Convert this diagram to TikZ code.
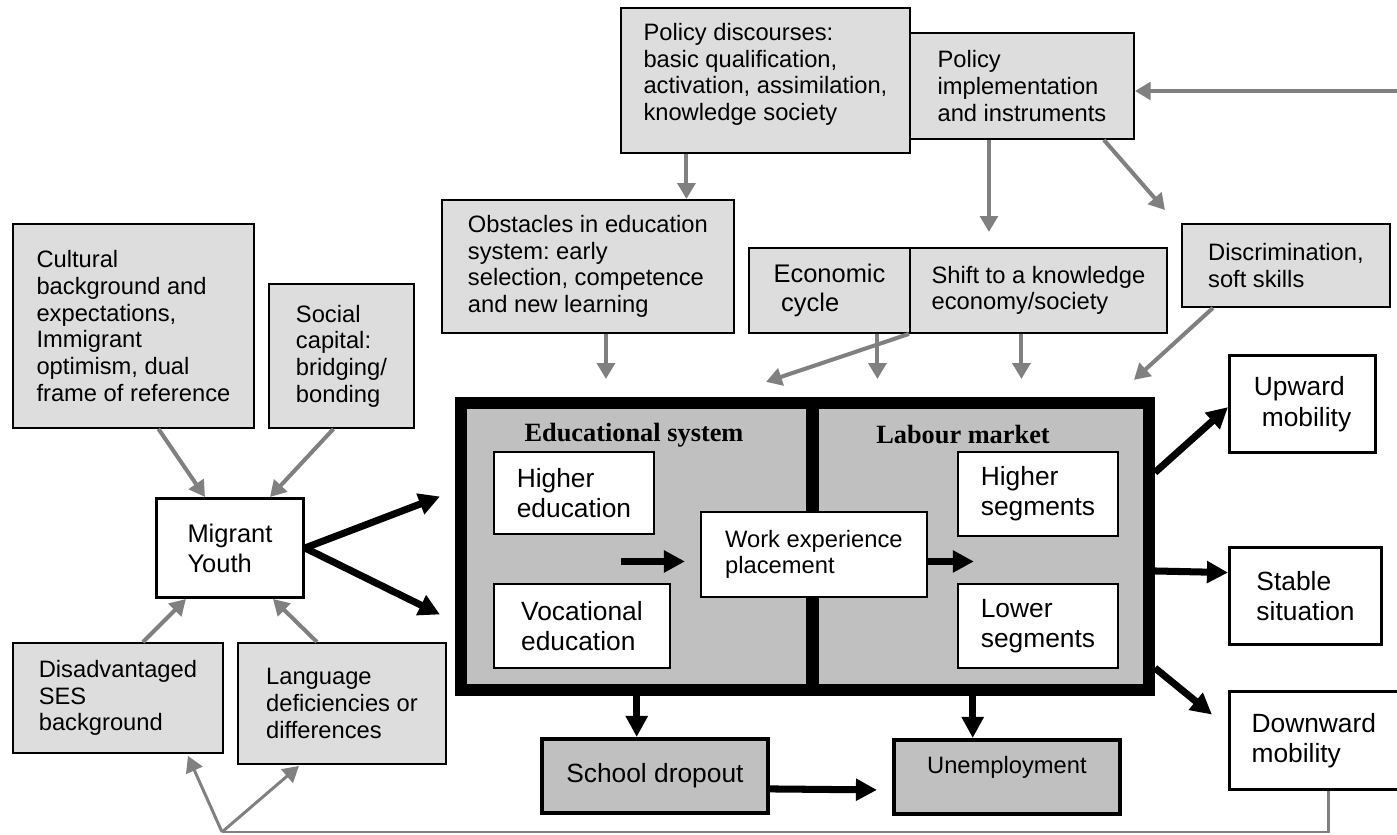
\documentclass[tikz,border=0pt]{standalone}
\usepackage{fontspec}
\setmainfont{Liberation Sans}
\newfontfamily\headfont{Liberation Serif}
\usetikzlibrary{arrows.meta,positioning}
\definecolor{Pale}{HTML}{DDDDDD}
\definecolor{Frame}{HTML}{C0C0C0}
\definecolor{Link}{HTML}{808080}
\frenchspacing
\newcommand{\factfont}{\fontsize{13.5}{15.2}\selectfont}
\newcommand{\cellfont}{\fontsize{15}{17.3}\selectfont}

\begin{document}
\begin{tikzpicture}[x=0.02cm,y=-0.02cm,
    fact/.style={draw,line width=1.1pt,fill=Pale,anchor=north west,align=left,inner sep=0pt,font=\factfont},
    cell/.style={draw,line width=1.1pt,fill=white,anchor=north west,align=left,inner sep=0pt,font=\cellfont},
    outcome/.style={cell,line width=1.8pt},
    exit/.style={draw,line width=2.2pt,fill=Frame,anchor=north west,align=left,inner sep=0pt},
    half/.style={draw,line width=0.24cm,fill=Frame,anchor=north west,inner sep=0pt},
    ttl/.style={font=\headfont\bfseries\fontsize{15}{17}\selectfont},
    garr/.style={-{Triangle[length=9pt,width=10pt]},line width=2.3pt,Link},
    thinarr/.style={garr,line width=1.7pt},
    barr/.style={-{Triangle[length=12pt,width=12pt]},line width=4pt},
    fline/.style={line width=1.5pt,Link}
  ]
  \useasboundingbox (0,0) rectangle (1397,835);

  % policy level
  \node[fact,minimum width=5.78cm,minimum height=2.9cm,text depth=0.34cm] (pdisc) at (620,7)
    {Policy discourses:\\basic qualification,\\activation, assimilation,\\knowledge society};
  \node[fact,minimum width=4.48cm,minimum height=2.12cm] (pimpl) at (909,32)
    {Policy\\implementation\\and instruments};
  \node[fact,minimum width=5.84cm,minimum height=2.66cm] (obst) at (441,199)
    {Obstacles in education\\system: early\\selection, competence\\and new learning};
  \node[fact,minimum width=3.22cm,minimum height=1.7cm,font=\fontsize{14.5}{16}\selectfont] (econ) at (748,247)
    {Economic\\\hspace*{0.3em}cycle};
  \node[fact,minimum width=5.14cm,minimum height=1.7cm] (shift) at (909,247)
    {Shift to a knowledge\\economy/society};
  \node[fact,minimum width=4.16cm,minimum height=1.66cm] (disc) at (1181,223)
    {Discrimination,\\soft skills};

  % individual level
  \node[fact,minimum width=4.82cm,minimum height=4.08cm] (cult) at (12,223)
    {Cultural\\background and\\expectations,\\Immigrant\\optimism, dual\\frame of reference};
  \node[fact,minimum width=2.9cm,minimum height=2.88cm] (soc) at (268,283)
    {Social\\capital:\\bridging/\\bonding};
  \node[cell,line width=1.7pt,minimum width=2.94cm,minimum height=1.98cm,font=\fontsize{14.5}{17}\selectfont] (migr) at (155,497)
    {Migrant\\Youth};
  \node[fact,minimum width=4.2cm,minimum height=2.2cm] (disadv) at (12,642)
    {Disadvantaged\\SES\\background};
  \node[fact,minimum width=4.16cm,minimum height=2.42cm] (lang) at (237,642)
    {Language\\deficiencies or\\differences};

  % systems
  \node[half,minimum width=7.03cm,minimum height=5.74cm] (edu) at (455,397) {};
  \node[half,minimum width=6.73cm,minimum height=5.74cm] (lab) at (806.5,397) {};
  \node[ttl] (edut) at (634,435) {Educational system};
  \node[ttl] (labt) at (963,435) {Labour market};
  \node[cell,minimum width=3.2cm,minimum height=1.64cm] (hied) at (493,451) {Higher\\education};
  \node[cell,minimum width=3.52cm,minimum height=1.68cm] (voed) at (493,583) {Vocational\\education};
  \node[cell,minimum width=4.52cm,minimum height=1.7cm,font=\factfont] (work) at (700,511)
    {Work experience\\placement};
  \node[cell,minimum width=3.2cm,minimum height=1.68cm] (hiseg) at (957,451) {Higher\\segments};
  \node[cell,minimum width=3.2cm,minimum height=1.68cm] (loseg) at (957,583) {Lower\\segments};

  % outcomes
  \node[outcome,minimum width=2.92cm,minimum height=1.94cm] (up) at (1228,354) {Upward\\\hspace*{0.3em}mobility};
  \node[outcome,minimum width=3.04cm,minimum height=1.94cm] (stab) at (1228,546) {Stable\\situation};
  \node[outcome,minimum width=3.96cm,minimum height=1.96cm,text width=3.08cm] (down) at (1228,690) {Downward\\mobility};
  \node[exit,minimum width=4.52cm,minimum height=1.48cm,font=\cellfont] (drop) at (540,737) {School dropout};
  \node[exit,minimum width=4.52cm,minimum height=1.48cm,font=\factfont,text depth=0.5cm] (unemp) at (892,738) {Unemployment};

  \coordinate (top) at (0,379);
  \coordinate (edge) at (1397,91);
  \coordinate (fb) at (222,832);

  % grey influences
  \draw[garr] ([shift={(-79,0)}]pdisc.south) -- ([shift={(-79,0)}]pdisc.south |- obst.north);
  \draw[garr] ([shift={(-33,0)}]pimpl.south) -- ++(0,92);
  \draw[garr] ([shift={(-31,0)}]pimpl.south east) -- ([shift={(-16,-13)}]disc.north west);
  \draw[garr] (edge) -- (pimpl.east |- edge);
  \draw[garr] ([shift={(18,0)}]obst.south) -- ([shift={(18,0)}]obst.south |- top);
  \draw[garr] (shift.south west) -- ([shift={(-143,48)}]shift.south west);
  \draw[garr] ([shift={(48,0)}]econ.south) -- ([shift={(48,0)}]econ.south |- top);
  \draw[garr] ([shift={(-17,0)}]shift.south) -- ([shift={(-17,0)}]shift.south |- top);
  \draw[garr] ([shift={(-73,0)}]disc.south) -- ([shift={(-152,72)}]disc.south);
  \draw[garr] ([shift={(25,0)}]cult.south) -- ([shift={(-25,0)}]migr.north);
  \draw[garr] ([shift={(-8,0)}]soc.south) -- ([shift={(40,0)}]migr.north);
  \draw[garr] ([shift={(25,0)}]disadv.north) -- ([shift={(-44,0)}]migr.south);
  \draw[garr] ([shift={(-25,0)}]lang.north) -- ([shift={(43,0)}]migr.south);

  % feedback
  \draw[fline] (down.south) -- (down.south |- fb) -- (fb);
  \draw[thinarr] (fb) -- ([shift={(70,2)}]disadv.south);
  \draw[thinarr] (fb) -- ([shift={(-43,1)}]lang.south);

  % main flow
  \draw[barr] (migr.east) -- ([shift={(-15,-50)}]edu.west);
  \draw[barr] (migr.east) -- ([shift={(-15,68)}]edu.west);
  \draw[barr] ([shift={(-79,7)}]work.west) -- ([shift={(-15,7)}]work.west);
  \draw[barr] ([shift={(0,7)}]work.east) -- ([shift={(46,7)}]work.east);
  \draw[barr] ([shift={(0,-74)}]lab.east) -- ([shift={(0,3)}]up.west);
  \draw[barr] ([shift={(0,24.5)}]lab.east) -- ([shift={(0,-23.5)}]stab.west);
  \draw[barr] ([shift={(0,121.5)}]lab.east) -- ([shift={(-16,-26)}]down.west);
  \draw[barr] (edu.south) -- (edu.south |- drop.north);
  \draw[barr] ([shift={(-8,0)}]lab.south) -- ([shift={(-8,0)}]lab.south |- unemp.north);
  \draw[barr] ([shift={(0,13)}]drop.east) -- ([shift={(-15,13)}]unemp.west);
\end{tikzpicture}
\end{document}
